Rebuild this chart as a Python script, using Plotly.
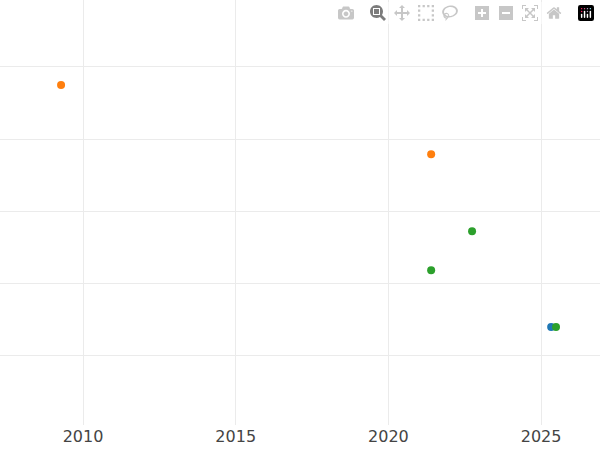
import plotly.graph_objects as go

# series values (x = year, y = arbitrary units)
blue_x = [2025.33]
blue_y = [0.39]
orange_x = [2009.28, 2021.40]
orange_y = [3.75, 2.79]
green_x = [2022.74, 2021.40, 2025.49]
green_y = [1.72, 1.18, 0.39]

fig = go.Figure()
for xs, ys, col in [(blue_x, blue_y, "#1f77b4"),
                    (orange_x, orange_y, "#ff7f0e"),
                    (green_x, green_y, "#2ca02c")]:
    fig.add_trace(go.Scatter(x=xs, y=ys, mode="markers",
                             marker=dict(color=col, size=8)))

fig.update_layout(
    width=600, height=450, showlegend=False,
    plot_bgcolor="white", paper_bgcolor="white",
    margin=dict(l=0, r=0, t=0, b=25),
    font=dict(family="DejaVu Sans", size=16, color="#444"),
)
fig.update_xaxes(range=[2007.28, 2026.93], tickvals=[2010, 2015, 2020, 2025],
                 gridcolor="#ebebeb", gridwidth=1.2, zeroline=False, showline=False)
fig.update_yaxes(range=[-0.97, 4.93], tickvals=[0, 1, 2, 3, 4], showticklabels=False,
                 gridcolor="#ebebeb", gridwidth=1, zeroline=False, showline=False)

# drop the page's default body margin so the figure sits at the corner
fig.write_html("out.html", post_script="document.body.style.margin='0';")
